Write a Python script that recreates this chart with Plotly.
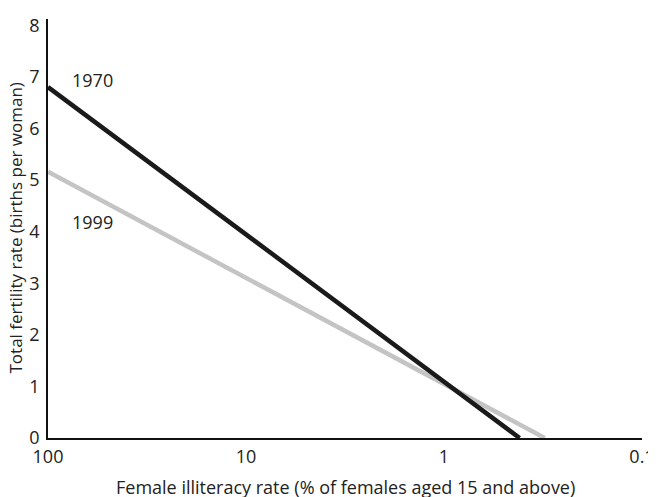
import plotly.graph_objects as go

x_1970 = [100, 0.415]
y_1970 = [6.8, 0]
x_1999 = [100, 0.31]
y_1999 = [5.16, 0]
x_ticks = [100, 10, 1, 0.1]
x_tick_labels = ["100", "10", "1", "0.1"]
y_ticks = [0, 1, 2, 3, 4, 5, 6, 7, 8]

font = "Open Sans, Noto Sans, sans-serif"

fig = go.Figure()
fig.add_trace(go.Scatter(x=x_1999, y=y_1999, mode="lines",
                         line=dict(color="#c4c4c4", width=4.5), showlegend=False))
fig.add_trace(go.Scatter(x=x_1970, y=y_1970, mode="lines",
                         line=dict(color="#1a1a1a", width=4.5), showlegend=False))

fig.add_annotation(x=1.777, y=6.94, xref="x", yref="y", text="1970", showarrow=False,
                   font=dict(size=18, color="#222"))
fig.add_annotation(x=1.777, y=4.19, xref="x", yref="y", text="1999", showarrow=False,
                   font=dict(size=18, color="#222"))

# axis titles
fig.add_annotation(x=0.5, y=0, xref="paper", yref="paper", xanchor="center", yanchor="middle",
                   yshift=-49, showarrow=False, borderpad=0,
                   text="Female illiteracy rate (% of females aged 15 and above)",
                   font=dict(size=18, color="#222"))
fig.add_annotation(x=0, y=0.5, xref="paper", yref="paper", xanchor="center", yanchor="middle",
                   xshift=-33, textangle=-90, showarrow=False, borderpad=0,
                   text="Total fertility rate (births per woman)",
                   font=dict(size=17, color="#222"))

fig.update_layout(
    width=656, height=497,
    margin=dict(l=40, r=22, t=11, b=67),
    paper_bgcolor="white", plot_bgcolor="white",
    font=dict(family=font, size=18, color="#222"),
    xaxis=dict(type="log", range=[2, -1], tickvals=x_ticks, ticktext=x_tick_labels,
               showgrid=False, zeroline=False, showline=True, linecolor="#111", linewidth=1.5,
               ticks="", ticklabelstandoff=2, automargin=False),
    yaxis=dict(range=[0, 8.12], tickvals=y_ticks, showgrid=False, zeroline=False,
               showline=True, linecolor="#111", linewidth=1.5, ticks="", ticklabelstandoff=3,
               automargin=False),
)

fig.write_html("out.html")
